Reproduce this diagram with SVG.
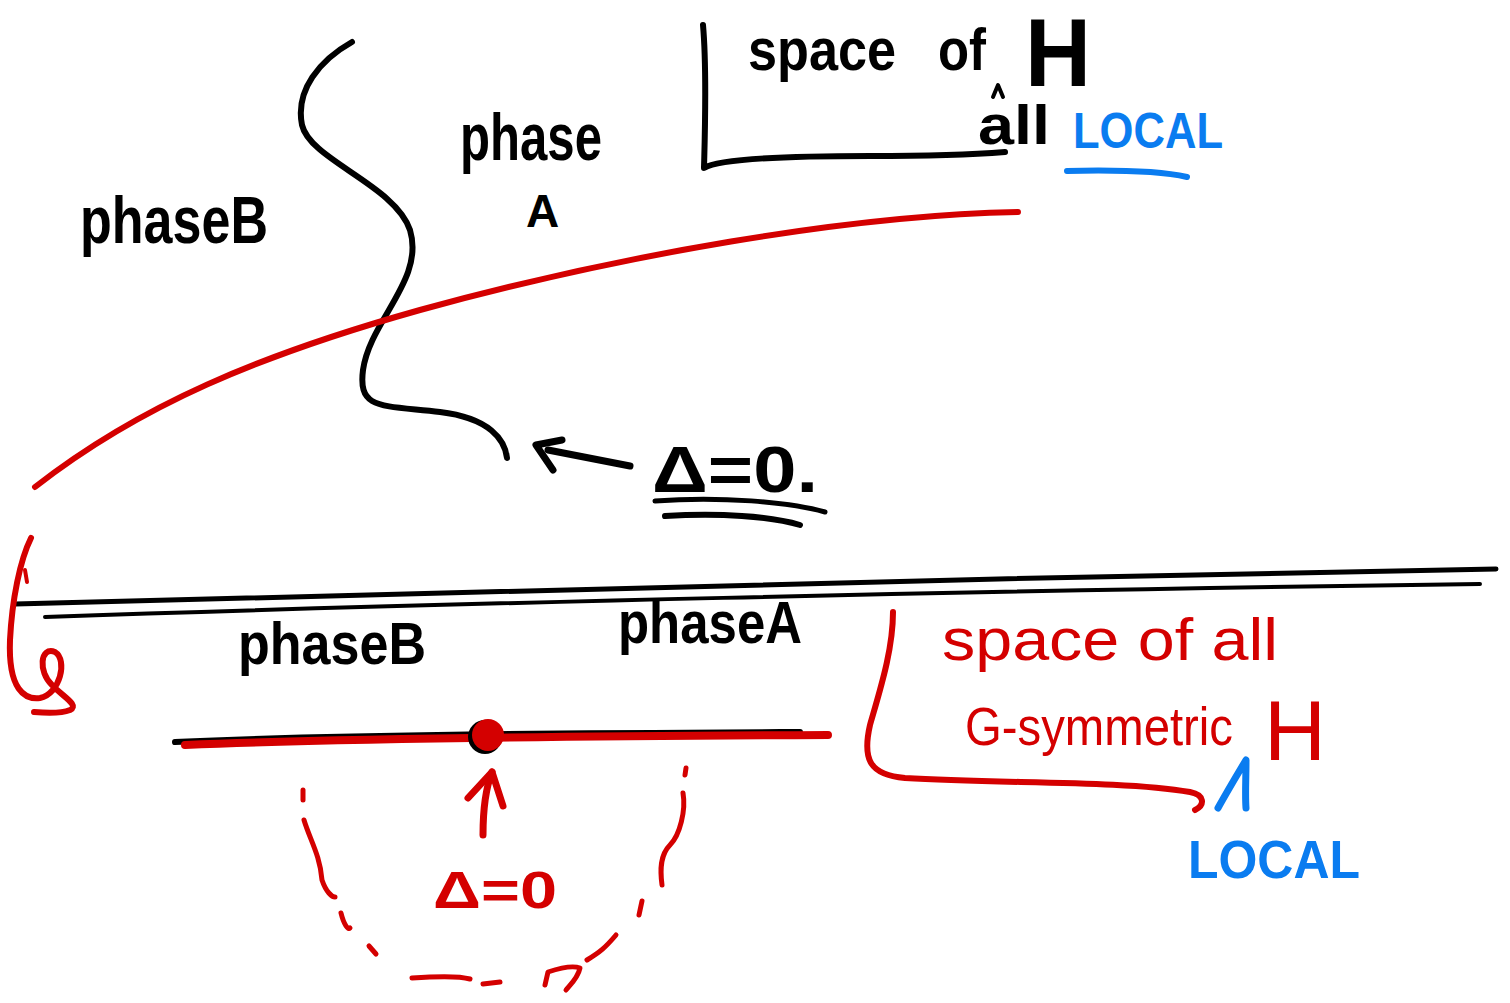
<svg xmlns="http://www.w3.org/2000/svg" width="1510" height="1003" viewBox="0 0 1510 1003">
<style>
.k{fill:none;stroke:#000;stroke-linecap:round;stroke-linejoin:round}
.r{fill:none;stroke:#d40000;stroke-linecap:round;stroke-linejoin:round}
.b{fill:none;stroke:#0a7cf0;stroke-linecap:round;stroke-linejoin:round}
.tk{font-family:"Liberation Sans",Arial,sans-serif;font-weight:bold;fill:#000}
.tr{font-family:"Liberation Sans",Arial,sans-serif;fill:#d40000}
.tb{font-family:"Liberation Sans",Arial,sans-serif;font-weight:bold;fill:#0a7cf0}
</style>
<rect width="1510" height="1003" fill="#fff"/>
<g id="connectors">
  <!-- top phase boundary curve -->
  <path class="k" stroke-width="6" d="M352,42 C320,60 295,90 302,125 C310,160 395,185 410,230 C425,280 370,320 363,370 C358,410 380,405 440,412 C490,418 505,440 507,458"/>
  <!-- red curve top -->
  <path class="r" stroke-width="6" d="M35,487 C140,405 260,355 420,310 C620,255 850,215 1018,212"/>
  <!-- black arrow to boundary -->
  <path class="k" stroke-width="7" d="M630,466 L548,450"/>
  <path class="k" stroke-width="7" d="M553,470 L536,445 L562,440"/>
  <!-- horizontal axis double line -->
  <path class="k" stroke-width="5" d="M15,604 C400,592 1000,578 1496,569"/>
  <path class="k" stroke-width="4" d="M45,617 C420,604 1000,590 1480,584"/>
  <!-- red curl on left -->
  <path class="r" stroke-width="6" d="M31,538 C20,560 12,600 10,640 C8,690 25,700 40,698 C60,694 68,660 55,652 C40,646 38,672 52,685 C62,696 80,705 70,710 C60,714 45,713 34,712"/>
  <path class="r" stroke-width="4" d="M25,570 L27,582"/>
  <!-- lower segment -->
  <path class="k" stroke-width="6" d="M175,742 C350,734 600,733 800,732"/>
  <path class="r" stroke-width="8" d="M185,745 C350,738 600,736 828,735"/>
  <!-- red upward arrow -->
  <path class="r" stroke-width="7" d="M483,835 C483,810 485,790 492,772"/>
  <path class="r" stroke-width="7" d="M468,798 L492,772 L503,806"/>
  <!-- dashed semicircle arrow -->
  <g class="r" stroke-width="5">
    <path d="M303,790 L303,800"/>
    <path d="M304,820 C310,840 320,855 322,880 C326,892 332,897 335,897"/>
    <path d="M341,913 C344,925 348,930 350,928"/>
    <path d="M369,946 L376,954"/>
    <path d="M412,978 C440,976 460,976 470,979"/>
    <path d="M483,984 L500,982"/>
    <path d="M686,768 L685,775"/>
    <path d="M683,793 C686,810 680,835 670,845 C660,855 660,870 662,885"/>
    <path d="M642,901 L639,915"/>
    <path d="M616,935 C605,948 600,952 587,960"/>
    <path d="M545,985 L548,972 C560,968 572,965 580,968 C578,978 570,985 566,990"/>
  </g>
  <!-- red bracket right -->
  <path class="r" stroke-width="6" d="M893,612 C893,650 880,690 870,725 C862,760 870,775 905,778 C1000,784 1120,780 1190,792 C1205,795 1205,805 1195,810"/>
  <!-- black bracket top -->
  <path class="k" stroke-width="6" d="M703,25 C707,70 705,130 704,168 C720,158 800,156 870,156 C930,156 980,154 1005,152"/>
  <!-- blue underline -->
  <path class="b" stroke-width="6" d="M1067,171 C1110,170 1160,171 1187,177"/>
  <!-- double underline under delta=0 -->
  <path class="k" stroke-width="5" d="M655,501 C720,496 790,502 825,512"/>
  <path class="k" stroke-width="6" d="M665,516 C720,513 770,516 800,525"/>
  <!-- carets -->
  <path class="k" stroke-width="4" d="M993,97 L998,85 L1003,97"/>
  <path class="b" stroke-width="7" d="M1218,808 C1228,790 1240,770 1246,760 C1246,780 1245,795 1246,808"/>
</g>
<g id="phaseB-top"><text class="tk" x="80" y="243" font-size="66" textLength="188" lengthAdjust="spacingAndGlyphs">phaseB</text></g>
<g id="phaseA-top">
  <text class="tk" x="460" y="160" font-size="66" textLength="142" lengthAdjust="spacingAndGlyphs">phase</text>
  <text class="tk" x="526" y="227" font-size="46">A</text>
</g>
<g id="space-of-all-H">
  <text class="tk" x="748" y="70" font-size="60" textLength="148" lengthAdjust="spacingAndGlyphs">space</text>
  <text class="tk" x="938" y="70" font-size="60" textLength="48" lengthAdjust="spacingAndGlyphs">of</text>
  <text class="tk" x="1025" y="86" font-size="96" textLength="66" lengthAdjust="spacingAndGlyphs">H</text>
  <text class="tk" x="978" y="144" font-size="56" textLength="72" lengthAdjust="spacingAndGlyphs">all</text>
</g>
<g id="local-top"><text class="tb" x="1073" y="148" font-size="50" textLength="150" lengthAdjust="spacingAndGlyphs">LOCAL</text></g>
<g id="delta-black"><text class="tk" x="652" y="492" font-size="64" textLength="166" lengthAdjust="spacingAndGlyphs">Δ=0.</text></g>
<g id="phaseB-bottom"><text class="tk" x="238" y="664" font-size="60" textLength="188" lengthAdjust="spacingAndGlyphs">phaseB</text></g>
<g id="phaseA-bottom"><text class="tk" x="618" y="643" font-size="60" textLength="184" lengthAdjust="spacingAndGlyphs">phaseA</text></g>
<g id="critical-point">
  <circle cx="485" cy="737" r="17" fill="#000"/>
  <circle cx="488" cy="735" r="16" fill="#d40000"/>
</g>
<g id="delta-red"><text class="tr" x="433" y="908" font-size="52" font-weight="bold" textLength="124" lengthAdjust="spacingAndGlyphs">Δ=0</text></g>
<g id="space-of-all-G">
  <text class="tr" x="942" y="660" font-size="60" textLength="336" lengthAdjust="spacingAndGlyphs">space of all</text>
  <text class="tr" x="965" y="745" font-size="54" textLength="268" lengthAdjust="spacingAndGlyphs">G-symmetric</text>
  <text class="tr" x="1264" y="760" font-size="86" textLength="62" lengthAdjust="spacingAndGlyphs">H</text>
</g>
<g id="local-bottom"><text class="tb" x="1188" y="878" font-size="54" textLength="172" lengthAdjust="spacingAndGlyphs">LOCAL</text></g>
</svg>
